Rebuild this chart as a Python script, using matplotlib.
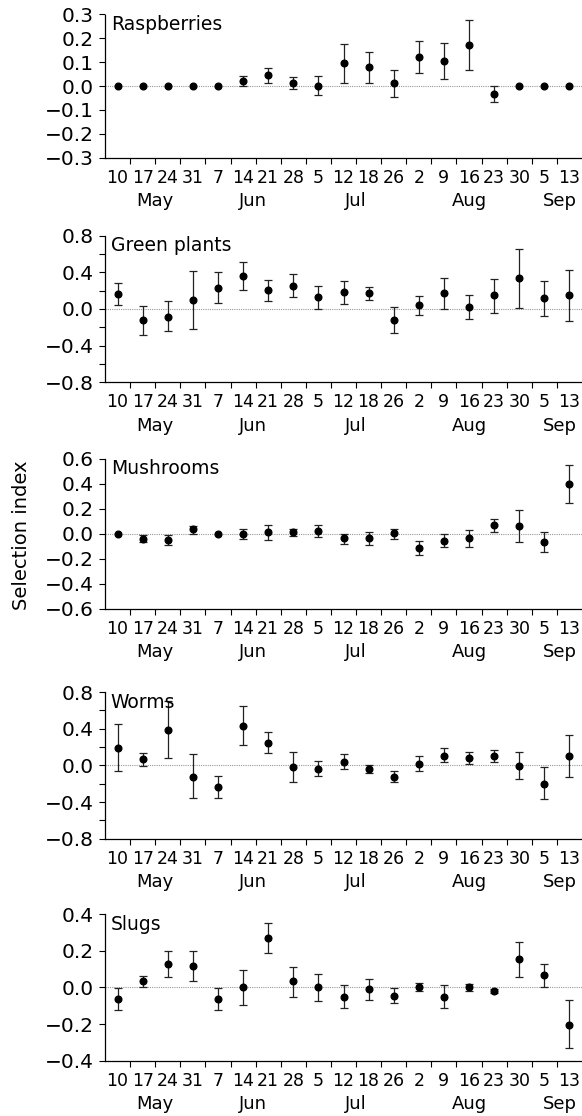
import numpy as np
import matplotlib
matplotlib.use('Agg')
import matplotlib.pyplot as plt
from matplotlib.ticker import MultipleLocator, FuncFormatter

# sampling dates (day of month) and month names
dates = ['10', '17', '24', '31', '7', '14', '21', '28', '5', '12', '18', '26',
         '2', '9', '16', '23', '30', '5', '13']
months = ['May', 'Jun', 'Jul', 'Aug', 'Sep']

# selection index: value, lower and upper end of error bar
rasp_val = [0, 0, 0, 0, 0, 0.02, 0.045, 0.011, 0.0, 0.095, 0.078, 0.013, 0.122, 0.105, 0.172, -0.034, 0, 0, 0]
rasp_lo = [0, 0, 0, 0, 0, 0.0, 0.011, -0.014, -0.039, 0.011, 0.011, -0.045, 0.055, 0.028, 0.068, -0.069, 0, 0, 0]
rasp_hi = [0, 0, 0, 0, 0, 0.042, 0.074, 0.038, 0.042, 0.177, 0.143, 0.068, 0.189, 0.182, 0.276, 0.0, 0, 0, 0]

green_val = [0.164, -0.12, -0.084, 0.098, 0.233, 0.356, 0.207, 0.255, 0.127, 0.182, 0.171, -0.12, 0.04, 0.171, 0.025, 0.149, 0.338, 0.116, 0.149]
green_lo = [0.047, -0.28, -0.244, -0.222, 0.065, 0.204, 0.091, 0.127, 0.0, 0.051, 0.098, -0.265, -0.065, 0.0, -0.105, -0.04, 0.011, -0.076, -0.135]
green_hi = [0.28, 0.033, 0.09, 0.42, 0.4, 0.513, 0.32, 0.385, 0.25, 0.31, 0.244, 0.025, 0.142, 0.335, 0.156, 0.324, 0.655, 0.31, 0.425]

mush_val = [0, -0.04, -0.05, 0.035, 0, 0.0, 0.01, 0.013, 0.021, -0.037, -0.037, 0.003, -0.115, -0.059, -0.037, 0.072, 0.061, -0.067, 0.397]
mush_lo = [0, -0.07, -0.09, -0.003, 0, -0.04, -0.048, -0.016, -0.029, -0.083, -0.093, -0.04, -0.17, -0.109, -0.107, 0.016, -0.067, -0.147, 0.243]
mush_hi = [0, -0.013, -0.01, 0.061, 0, 0.04, 0.067, 0.04, 0.069, 0.0, 0.016, 0.04, -0.059, -0.005, 0.029, 0.12, 0.189, 0.013, 0.552]

worm_val = [0.193, 0.069, 0.382, -0.124, -0.236, 0.433, 0.247, -0.018, -0.036, 0.04, -0.036, -0.124, 0.018, 0.105, 0.076, 0.098, -0.004, -0.2, 0.098]
worm_lo = [-0.062, -0.004, 0.076, -0.36, -0.36, 0.218, 0.131, -0.185, -0.12, -0.036, -0.084, -0.182, -0.058, 0.033, 0.011, 0.033, -0.153, -0.371, -0.127]
worm_hi = [0.447, 0.131, 0.702, 0.124, -0.113, 0.651, 0.367, 0.145, 0.044, 0.124, 0.004, -0.062, 0.102, 0.193, 0.149, 0.171, 0.149, -0.022, 0.327]

slug_val = [-0.064, 0.033, 0.125, 0.115, -0.064, 0.0, 0.271, 0.033, 0.0, -0.053, -0.011, -0.045, 0.004, -0.053, 0.004, -0.018, 0.153, 0.065, -0.204]
slug_lo = [-0.122, 0.0, 0.055, 0.035, -0.122, -0.098, 0.187, -0.051, -0.076, -0.113, -0.069, -0.087, -0.02, -0.113, -0.022, -0.029, 0.055, 0.0, -0.333]
slug_hi = [-0.005, 0.064, 0.196, 0.196, -0.005, 0.095, 0.353, 0.113, 0.075, 0.015, 0.045, -0.002, 0.022, 0.015, 0.02, -0.007, 0.245, 0.129, -0.067]

panels = [
    ('Raspberries', rasp_val, rasp_lo, rasp_hi, 0.3, 0.1, None),
    ('Green plants', green_val, green_lo, green_hi, 0.8, 0.4, 0.2),
    ('Mushrooms', mush_val, mush_lo, mush_hi, 0.6, 0.2, None),
    ('Worms', worm_val, worm_lo, worm_hi, 0.8, 0.4, 0.2),
    ('Slugs', slug_val, slug_lo, slug_hi, 0.4, 0.2, None),
]

plt.rcParams['font.family'] = 'DejaVu Sans'
W, H = 582, 1116
fig = plt.figure(figsize=(W / 100, H / 100), dpi=100)

tops = [14.5, 235.7, 458.7, 692, 914]
bots = [157.5, 382.3, 608.7, 838.7, 1060.7]
left, right = 105, 582
month_x = [1.5, 5.4, 9.5, 14.0, 17.6]


def fmt(v, pos):
    s = '%.1f' % v
    if s == '-0.0':
        s = '0.0'
    return s.replace('-', '\u2212')


x = np.arange(len(dates))
for (name, val, lo, hi, lim, major, minor), t, b in zip(panels, tops, bots):
    ax = fig.add_axes([left / W, 1 - b / H, (right - left) / W, (b - t) / H])
    val = np.array(val); lo = np.array(lo); hi = np.array(hi)
    ax.axhline(0, color='#999999', lw=0.8, ls=(0, (1, 1)), zorder=1)
    has = hi > lo
    ax.errorbar(x[has], val[has], yerr=[val[has] - lo[has], hi[has] - val[has]],
                fmt='none', ecolor='#222222', elinewidth=0.9, capsize=2.8,
                capthick=0.9, zorder=2)
    ax.plot(x, val, 'o', color='black', ms=4.8, zorder=3)

    ax.set_xlim(-0.5, 18.5)
    ax.set_ylim(-lim, lim)
    for s in ['top', 'right']:
        ax.spines[s].set_visible(False)
    for s in ['left', 'bottom']:
        ax.spines[s].set_linewidth(0.9)

    # half-step tick marks, labels centred on each sampling date
    ax.set_xticks(x[:-1] + 0.5)
    ax.set_xticklabels([])
    ax.set_xticks(x, minor=True)
    ax.set_xticklabels(dates, minor=True, fontsize=12.5)
    ax.tick_params(axis='x', which='major', direction='out', length=4, width=0.8)
    ax.tick_params(axis='x', which='minor', length=0, pad=8)

    ax.yaxis.set_major_locator(MultipleLocator(major))
    ax.yaxis.set_major_formatter(FuncFormatter(fmt))
    if minor:
        ax.yaxis.set_minor_locator(MultipleLocator(minor))
        ax.tick_params(axis='y', which='minor', direction='out', length=4, width=0.8)
    ax.tick_params(axis='y', which='major', direction='out', length=4, width=0.8,
                   labelsize=14.5, pad=4)

    for m, mx in zip(months, month_x):
        ax.annotate(m, xy=(mx, 0), xycoords=('data', 'axes fraction'),
                    xytext=(0, -31.5), textcoords='offset points',
                    ha='center', va='center', fontsize=13)

    ax.text(0.012, 0.995, name, transform=ax.transAxes, ha='left', va='top',
            fontsize=13.5)

fig.text(22 / W, 1 - 535 / H, 'Selection index', rotation=90,
         ha='center', va='center', fontsize=14)

fig.savefig('out.png', dpi=100)
